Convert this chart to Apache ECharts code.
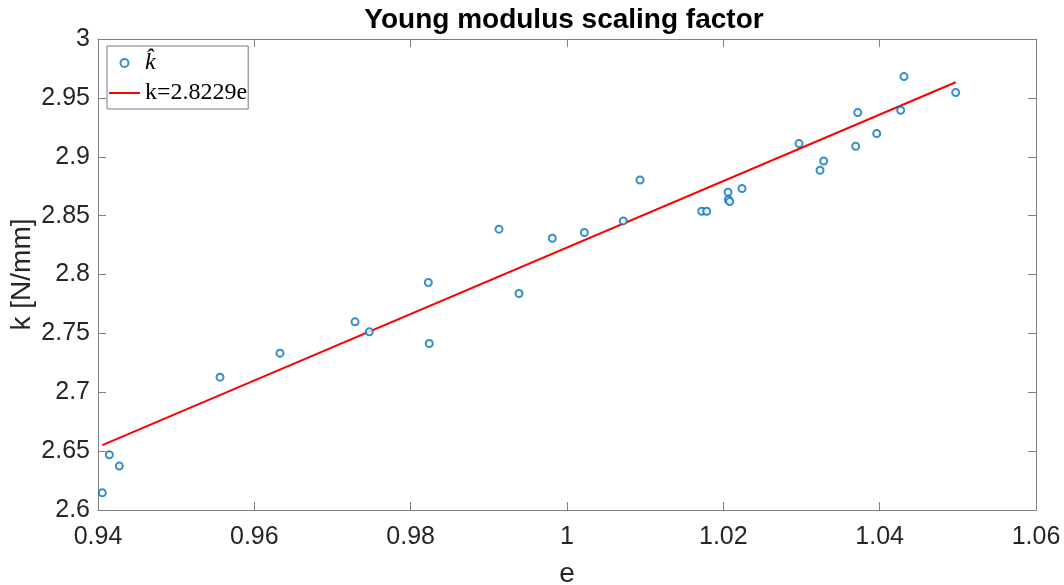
<!DOCTYPE html>
<html>
<head>
<meta charset="utf-8">
<title>Young modulus scaling factor</title>
<script src="https://cdn.jsdelivr.net/npm/echarts@6/dist/echarts.min.js"></script>
<style>
  html, body { margin: 0; padding: 0; background: #ffffff; }
  #chart { width: 1064px; height: 585px; }
</style>
</head>
<body>
<div id="chart"></div>
<script>
// Measured strain ratio e and fitted stiffness k for each sample
const eValues = [
  0.94055, 0.94145, 0.94273, 0.95561, 0.96328, 0.97288, 0.97471, 0.98226,
  0.98238, 0.99130, 0.99386, 0.99812, 1.00222, 1.00720, 1.00934, 1.01723,
  1.01787, 1.02060, 1.02064, 1.02081, 1.02239, 1.02968, 1.03237, 1.03284,
  1.03693, 1.03719, 1.03962, 1.04269, 1.04311, 1.04973
];
const kValues = [
  2.6146, 2.6469, 2.6373, 2.7128, 2.7332, 2.7598, 2.7513, 2.7932,
  2.7414, 2.8385, 2.7839, 2.8308, 2.8357, 2.8455, 2.8803, 2.8537,
  2.8537, 2.8699, 2.8637, 2.8620, 2.8730, 2.9112, 2.8885, 2.8964,
  2.9089, 2.9375, 2.9197, 2.9395, 2.9681, 2.9545
];

// Least-squares slope of the line through the origin, k = c * e
const slope = 2.8229;

// Axis tick labels
const xTickLabels = ['0.94', '0.96', '0.98', '1', '1.02', '1.04', '1.06'];
const yTickLabels = ['2.6', '2.65', '2.7', '2.75', '2.8', '2.85', '2.9', '2.95', '3'];

const scatterName = 'k\u0302';
const fitName = 'k=' + slope.toFixed(4) + 'e';

const points = eValues.map((e, i) => [e, kValues[i]]);
const eMin = Math.min(...eValues);
const eMax = Math.max(...eValues);
const fitLine = [[eMin, slope * eMin], [eMax, slope * eMax]];

const axisColor = '#808080';
const textColor = '#262626';
const sans = '"Liberation Sans", Arial, Helvetica, sans-serif';
const serif = '"Liberation Serif", "Times New Roman", serif';

const xMin = Number(xTickLabels[0]), xMax = Number(xTickLabels[xTickLabels.length - 1]);
const yMin = Number(yTickLabels[0]), yMax = Number(yTickLabels[yTickLabels.length - 1]);

const chart = echarts.init(document.getElementById('chart'), null, { renderer: 'canvas' });

const baseAxis = {
  axisLine: { show: true, onZero: false, lineStyle: { color: axisColor, width: 1 } },
  axisTick: { show: true, inside: true, length: 8, lineStyle: { color: axisColor, width: 1 } },
  splitLine: { show: false }
};

chart.setOption({
  animation: false,
  backgroundColor: '#ffffff',
  title: {
    text: 'Young modulus scaling factor',
    left: 559,
    textAlign: 'center',
    top: 1,
    textStyle: { fontFamily: sans, fontSize: 28, fontWeight: 'bold', color: '#000000' }
  },
  grid: { left: 98, right: 28, top: 39, bottom: 75, containLabel: false, outerBoundsMode: 'none' },
  legend: {
    orient: 'vertical',
    left: 107,
    top: 46,
    padding: [5, 1, 4, 1],
    itemGap: 6,
    itemWidth: 31,
    itemHeight: 8,
    borderColor: '#7a7a7a',
    borderWidth: 1,
    backgroundColor: '#ffffff',
    data: [
      { name: scatterName },
      { name: fitName, itemStyle: { opacity: 0 } }
    ],
    formatter: function (name) {
      return name === scatterName ? '{it|' + name + '}' : '{rm|' + name + '}';
    },
    textStyle: {
      color: '#000000',
      rich: {
        it: { fontFamily: serif, fontStyle: 'italic', fontSize: 24, color: '#000000' },
        rm: { fontFamily: serif, fontSize: 24, color: '#000000' }
      }
    }
  },
  xAxis: [
    Object.assign({}, baseAxis, {
      type: 'value',
      min: xMin, max: xMax, interval: 0.02,
      position: 'bottom',
      name: 'e',
      nameLocation: 'middle',
      nameGap: 50,
      nameMoveOverlap: false,
      nameTextStyle: { fontFamily: sans, fontSize: 28, color: textColor },
      axisLabel: {
        margin: 15,
        fontFamily: sans, fontSize: 25, color: textColor,
        formatter: (v) => xTickLabels[Math.round((v - xMin) / 0.02)]
      }
    }),
    Object.assign({}, baseAxis, {
      type: 'value',
      min: xMin, max: xMax, interval: 0.02,
      position: 'top',
      axisLabel: { show: false }
    })
  ],
  yAxis: [
    Object.assign({}, baseAxis, {
      type: 'value',
      min: yMin, max: yMax, interval: 0.05,
      position: 'left',
      name: 'k [N/mm]',
      nameLocation: 'middle',
      nameGap: 62,
      nameRotate: 90,
      nameMoveOverlap: false,
      nameTextStyle: { fontFamily: sans, fontSize: 28, color: textColor },
      axisLabel: {
        margin: 8,
        fontFamily: sans, fontSize: 25, color: textColor,
        formatter: (v) => yTickLabels[Math.round((v - yMin) / 0.05)]
      }
    }),
    Object.assign({}, baseAxis, {
      type: 'value',
      min: yMin, max: yMax, interval: 0.05,
      position: 'right',
      axisLabel: { show: false }
    })
  ],
  series: [
    {
      name: scatterName,
      type: 'scatter',
      data: points,
      symbol: 'circle',
      symbolSize: 7,
      itemStyle: { color: '#ffffff', borderColor: '#0072BD', borderWidth: 2 },
      emphasis: { disabled: true },
      z: 3
    },
    {
      name: fitName,
      type: 'line',
      data: fitLine,
      showSymbol: false,
      symbol: 'none',
      lineStyle: { color: '#FF0000', width: 2 },
      itemStyle: { color: '#FF0000' },
      emphasis: { disabled: true },
      z: 2
    }
  ]
});
</script>
</body>
</html>
